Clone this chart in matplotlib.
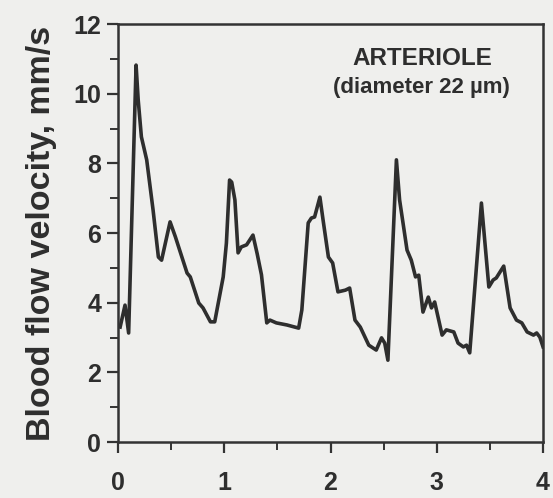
import matplotlib.pyplot as plt
from matplotlib.ticker import MultipleLocator

plt.rcParams['font.family'] = ['Liberation Sans', 'DejaVu Sans']

# Час (с) і швидкість кровотоку (мм/с)
t = [0.02, 0.066, 0.10, 0.17, 0.19, 0.22, 0.27, 0.33, 0.38, 0.41, 0.49, 0.54,
     0.58, 0.65, 0.68, 0.76, 0.80, 0.87, 0.91, 0.99, 1.02, 1.05, 1.07, 1.10,
     1.13, 1.16, 1.21, 1.27, 1.31, 1.35, 1.40, 1.43, 1.49, 1.59, 1.70, 1.73,
     1.79, 1.82, 1.85, 1.90, 1.93, 1.98, 2.02, 2.07, 2.14, 2.18, 2.23, 2.28,
     2.36, 2.43, 2.48, 2.51, 2.54, 2.62, 2.65, 2.72, 2.76, 2.80, 2.83, 2.87,
     2.92, 2.95, 2.98, 3.05, 3.09, 3.16, 3.20, 3.25, 3.28, 3.31, 3.42, 3.49,
     3.53, 3.56, 3.63, 3.69, 3.75, 3.80, 3.85, 3.91, 3.94, 3.97, 4.00]
v = [3.30, 3.93, 3.13, 10.82, 9.82, 8.76, 8.10, 6.66, 5.31, 5.22, 6.32, 5.89,
     5.51, 4.85, 4.74, 3.99, 3.85, 3.45, 3.45, 4.74, 5.71, 7.52, 7.46, 6.95,
     5.43, 5.60, 5.66, 5.94, 5.40, 4.80, 3.42, 3.50, 3.42, 3.36, 3.27, 3.79,
     6.29, 6.43, 6.46, 7.03, 6.37, 5.31, 5.14, 4.31, 4.36, 4.42, 3.50, 3.30,
     2.78, 2.64, 2.99, 2.84, 2.35, 8.10, 6.95, 5.51, 5.22, 4.74, 4.79, 3.73,
     4.16, 3.85, 4.02, 3.07, 3.22, 3.16, 2.84, 2.73, 2.78, 2.56, 6.86, 4.45,
     4.65, 4.71, 5.05, 3.85, 3.50, 3.42, 3.16, 3.07, 3.13, 3.01, 2.73]

fig = plt.figure(figsize=(5.53, 4.98), dpi=100)
fig.patch.set_facecolor('#efefed')
ax = fig.add_axes([0.2134, 0.1124, 0.7686, 0.8394])
ax.set_facecolor('#efefed')

ax.plot(t, v, color='#2e2e2e', lw=2.6, solid_joinstyle='round')

ax.set_xlim(0, 4)
ax.set_ylim(0, 12)
ax.xaxis.set_major_locator(MultipleLocator(1))
ax.xaxis.set_minor_locator(MultipleLocator(0.5))
ax.yaxis.set_major_locator(MultipleLocator(2))
ax.yaxis.set_minor_locator(MultipleLocator(1))
ax.tick_params(which='major', length=8, width=1.6, color='#333333',
               labelsize=18, labelcolor='#2e2e2e')
ax.tick_params(which='minor', length=6, width=1.4, color='#333333')
ax.tick_params(axis='x', which='major', pad=13)
ax.tick_params(axis='y', which='major', pad=4)
for lab in ax.get_xticklabels() + ax.get_yticklabels():
    lab.set_fontweight('bold')
for s in ax.spines.values():
    s.set_linewidth(1.8)
    s.set_color('#333333')

ax.set_ylabel('Blood flow velocity, mm/s', fontsize=24.5, fontweight='bold',
              color='#2e2e2e', labelpad=12)

ax.text(2.86, 11.02, 'ARTERIOLE', ha='center', va='center', fontsize=17.5,
        fontweight='bold', color='#2e2e2e')
ax.text(2.86, 10.17, '(diameter 22 µm)', ha='center', va='center',
        fontsize=16, fontweight='bold', color='#2e2e2e')

fig.savefig('out.png', dpi=100, facecolor=fig.get_facecolor())
